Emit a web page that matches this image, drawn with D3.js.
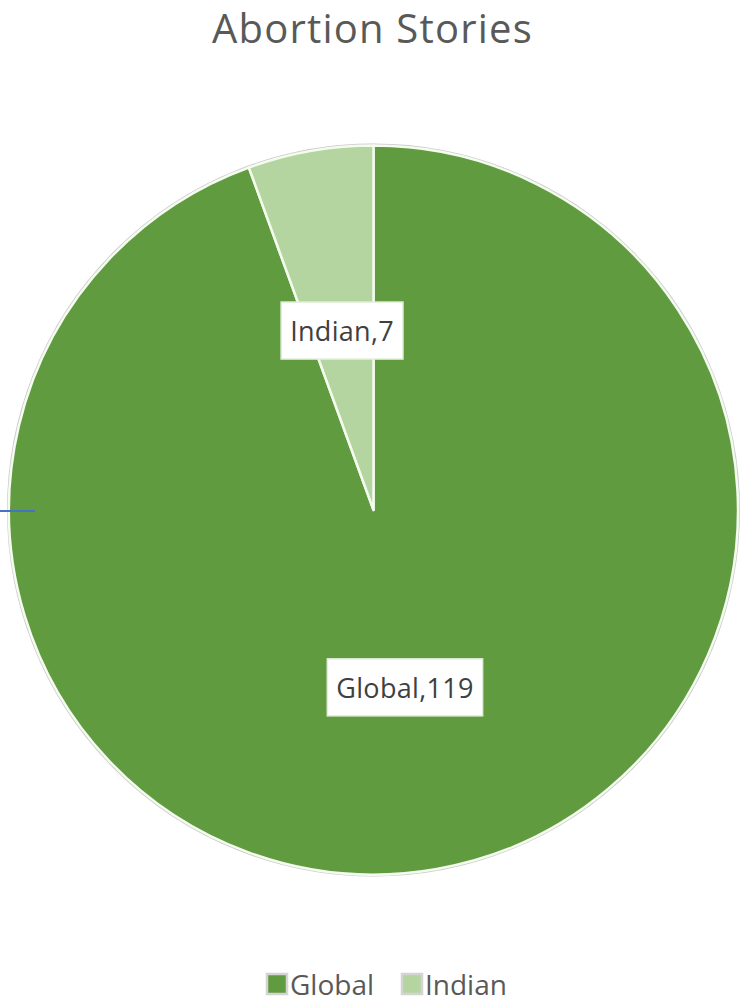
<!DOCTYPE html>
<html>
<head>
<meta charset="utf-8">
<script src="https://cdn.jsdelivr.net/npm/d3@7"></script>
<style>
  html, body { margin: 0; padding: 0; background: #fff; }
  svg { display: block; }
</style>
</head>
<body>
<svg id="chart" width="743" height="1002"></svg>
<script>
// Story counts by origin
const categories = ["Global", "Indian"];
const storyCounts = [119, 7];
const sliceColors = ["#619b3f", "#b5d5a0"];
const chartTitle = "Abortion Stories";

const W = 743, H = 1002;
const cx = 373.5, cy = 510, radius = 364.5;
const font = "'Open Sans', 'Segoe UI', 'DejaVu Sans', sans-serif";

const svg = d3.select("#chart");

const color = d3.scaleOrdinal().domain(categories).range(sliceColors);

// Title
svg.append("text")
  .attr("x", 372.5)
  .attr("y", 43)
  .attr("text-anchor", "middle")
  .attr("font-family", font)
  .attr("font-size", 40)
  .attr("letter-spacing", 1.2)
  .attr("fill", "#595959")
  .text(chartTitle);

const data = categories.map((c, i) => ({ name: c, value: storyCounts[i] }));

// Slices run clockwise from 12 o'clock in the order given
const pie = d3.pie().value(d => d.value).sort(null);
const arcs = pie(data);

const arc = d3.arc().innerRadius(0).outerRadius(radius);
const labelArc = d3.arc().innerRadius(radius * 0.497).outerRadius(radius * 0.497);

const g = svg.append("g").attr("transform", `translate(${cx},${cy})`);

// Outer rim
g.append("circle")
  .attr("r", radius + 1)
  .attr("fill", "none")
  .attr("stroke", "#c9c9c9")
  .attr("stroke-width", 2);

g.selectAll("path.slice")
  .data(arcs)
  .join("path")
  .attr("class", "slice")
  .attr("d", arc)
  .attr("fill", d => color(d.data.name))
  .attr("stroke", "#f4fbef")
  .attr("stroke-width", 2.5)
  .attr("stroke-linejoin", "round");

// Data labels in white boxes
const labels = g.selectAll("g.label")
  .data(arcs)
  .join("g")
  .attr("class", "label")
  .attr("transform", d => {
    const [x, y] = labelArc.centroid(d);
    return `translate(${x},${y})`;
  });

labels.append("text")
  .attr("text-anchor", "middle")
  .attr("dy", "0.35em")
  .attr("font-family", font)
  .attr("font-size", 27)
  .attr("letter-spacing", 0.3)
  .attr("fill", "#404040")
  .text(d => `${d.data.name},${d.data.value}`);

labels.each(function () {
  const t = d3.select(this).select("text");
  const bb = t.node().getBBox();
  const padX = 9, padY = 11;
  d3.select(this).insert("rect", "text")
    .attr("x", bb.x - padX)
    .attr("y", bb.y - padY + 1)
    .attr("width", bb.width + padX * 2)
    .attr("height", bb.height + padY * 2 - 2)
    .attr("fill", "#ffffff")
    .attr("stroke", "#e2eedb")
    .attr("stroke-width", 1.5);
});

// Small leader tick on the left edge
svg.append("line")
  .attr("x1", 0).attr("x2", 35)
  .attr("y1", 511).attr("y2", 511)
  .attr("stroke", "#4472c4")
  .attr("stroke-width", 2);

// Legend
const legendX = [266, 401];
const legend = svg.append("g");
const items = legend.selectAll("g")
  .data(categories)
  .join("g")
  .attr("transform", (d, i) => `translate(${legendX[i]},973)`);

items.append("rect")
  .attr("x", 1).attr("y", 1)
  .attr("width", 20).attr("height", 20)
  .attr("fill", d => color(d))
  .attr("stroke", "#d4d4d4")
  .attr("stroke-width", 2.5);

items.append("text")
  .attr("x", 24)
  .attr("y", 22)
  .attr("font-family", font)
  .attr("font-size", 28)
  .attr("fill", "#595959")
  .text(d => d);
</script>
</body>
</html>
